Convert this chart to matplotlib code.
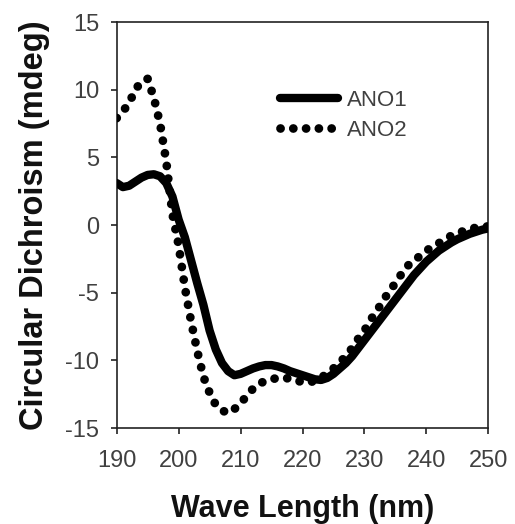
import matplotlib
matplotlib.use("Agg")
import matplotlib.pyplot as plt
import numpy as np

wavelength = list(range(190, 251))

ano1 = [3.1, 2.8, 2.9, 3.2, 3.5, 3.7, 3.75, 3.6, 3.1, 2.1,
        0.4, -0.9, -2.6, -4.3, -5.9, -7.8, -9.2, -10.2, -10.8, -11.1,
        -11.0, -10.8, -10.6, -10.45, -10.35, -10.35, -10.45, -10.6, -10.8, -10.95,
        -11.1, -11.25, -11.4, -11.45, -11.3, -11.0, -10.6, -10.2, -9.7, -9.1,
        -8.5, -7.9, -7.3, -6.7, -6.1, -5.5, -4.9, -4.3, -3.7, -3.2,
        -2.7, -2.3, -1.9, -1.6, -1.3, -1.05, -0.85, -0.65, -0.5, -0.35,
        -0.25]

ano2 = [7.9, 8.4, 9.0, 10.0, 10.6, 10.8, 9.4, 7.5, 4.7, 0.8,
        -1.5, -4.6, -7.1, -9.3, -11.2, -12.4, -13.3, -13.7, -13.9, -13.6,
        -13.2, -12.6, -12.1, -11.7, -11.55, -11.4, -11.3, -11.3, -11.35, -11.5,
        -11.6, -11.65, -11.5, -11.3, -10.95, -10.6, -10.15, -9.7, -9.1, -8.4,
        -7.8, -7.0, -6.35, -5.6, -4.9, -4.3, -3.6, -3.0, -2.7, -2.25,
        -1.9, -1.6, -1.35, -1.05, -0.8, -0.6, -0.45, -0.3, -0.2, -0.15,
        -0.1]

series_names = ["ANO1", "ANO2"]
xticks = [190, 200, 210, 220, 230, 240, 250]
yticks = [-15, -10, -5, 0, 5, 10, 15]

plt.rcParams['font.family'] = ['Liberation Sans', 'DejaVu Sans']
plt.rcParams['axes.unicode_minus'] = False

fig = plt.figure(figsize=(5.15, 5.24), dpi=100)
ax = fig.add_axes([0.2266, 0.1832, 0.7216, 0.7748])

ax.plot(wavelength, ano1, color='black', lw=6.0, solid_capstyle='round',
        solid_joinstyle='round', label=series_names[0], zorder=3)
ax.plot(wavelength, ano2, color='black', lw=6.3, linestyle=(0, (0.01, 1.45)),
        dash_capstyle='round', label=series_names[1], zorder=4)

ax.set_xlim(190, 250)
ax.set_ylim(-15, 15)
ax.set_xticks(xticks)
ax.set_yticks(yticks)
ax.tick_params(axis='both', direction='out', length=4.5, width=1.2,
               colors='#222222', labelcolor='#404040', labelsize=17)
ax.tick_params(axis='x', pad=11)
ax.tick_params(axis='y', pad=8)
for s in ax.spines.values():
    s.set_linewidth(1.2)
    s.set_color('#222222')

ax.set_xlabel("Wave Length (nm)", fontsize=22, fontweight='bold', labelpad=16,
              color='#111111')
ax.set_ylabel("Circular Dichroism (mdeg)", fontsize=23.5, fontweight='bold',
              labelpad=11, color='#111111')

leg = ax.legend(loc='upper left', bbox_to_anchor=(0.44, 0.833), frameon=False,
                fontsize=16, handlelength=2.6, handletextpad=0.4,
                labelspacing=0.4, borderpad=0, borderaxespad=0)
for t in leg.get_texts():
    t.set_color('#404040')

fig.savefig("out.png", dpi=100)
